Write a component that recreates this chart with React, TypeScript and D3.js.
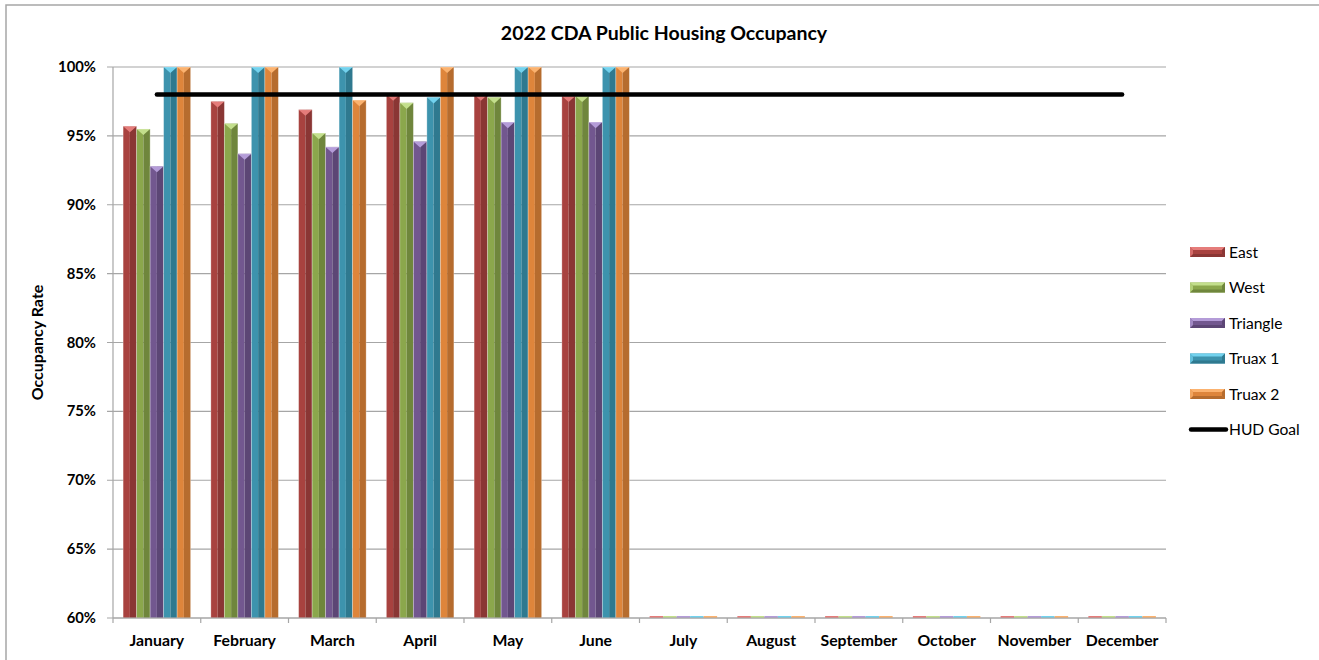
import React from "react";
import * as d3 from "d3";

// Months on the x axis
const months = [
  "January", "February", "March", "April", "May", "June",
  "July", "August", "September", "October", "November", "December",
];

// Occupancy rate (%) per site; later months not yet reported (0)
const east = [95.7, 97.5, 96.9, 98.0, 98.0, 97.9, 0, 0, 0, 0, 0, 0];
const west = [95.5, 95.9, 95.2, 97.4, 97.8, 97.9, 0, 0, 0, 0, 0, 0];
const triangle = [92.8, 93.7, 94.2, 94.6, 96.0, 96.0, 0, 0, 0, 0, 0, 0];
const truax1 = [100, 100, 100, 97.8, 100, 100, 0, 0, 0, 0, 0, 0];
const truax2 = [100, 100, 97.6, 100, 100, 100, 0, 0, 0, 0, 0, 0];
const hudGoal = 98;

const yTicks = [60, 65, 70, 75, 80, 85, 90, 95, 100];

const seriesNames = ["East", "West", "Triangle", "Truax 1", "Truax 2"];
const seriesValues = [east, west, triangle, truax1, truax2];

// main face, shaded face, cap
const palette = [
  { main: "#a8423f", dark: "#8a3634", light: "#e57c7a" },
  { main: "#8ba74c", dark: "#6f863c", light: "#c3df8c" },
  { main: "#72578f", dark: "#5c4675", light: "#b49cd8" },
  { main: "#3d93ad", dark: "#2f798f", light: "#72d2ee" },
  { main: "#de853b", dark: "#b66c2e", light: "#fbb26f" },
];

const W = 1319;
const H = 660;
const margin = { left: 113, right: 1166, top: 67, bottom: 618 };
const FONT = "Lato, 'Open Sans', sans-serif";

export default function App() {
  const x = d3.scaleBand<string>().domain(months).range([margin.left, margin.right]).padding(0);
  const bw = x.bandwidth();
  const inner = d3
    .scaleBand<string>()
    .domain(seriesNames)
    .range([(bw * 0.75) / 6.5, (bw * 5.75) / 6.5])
    .padding(0);
  const y = d3.scaleLinear().domain([60, 100]).range([margin.bottom, margin.top]);
  const barW = inner.bandwidth();

  const goalLine = d3.line<string>()
    .x((m) => (x(m) as number) + bw / 2)
    .y(() => y(hudGoal));

  return (
    <svg
      width={W}
      height={H}
      style={{ position: "absolute", left: 0, top: 0, background: "#fff" }}
      fontFamily={FONT}
    >
      {/* chart frame, cropped by the page */}
      <rect x={6} y={5} width={1330} height={680} fill="#fff" stroke="#a6a6a6" strokeWidth={1.5} />

      {/* title */}
      <text x={664} y={40} textAnchor="middle" fontSize={19.5} fontWeight="bold" fill="#000">
        2022 CDA Public Housing Occupancy
      </text>

      {/* grid + y ticks */}
      {yTicks.map((t) => (
        <g key={t}>
          <line x1={margin.left - 6} x2={margin.right} y1={y(t)} y2={y(t)} stroke="#a6a6a6" strokeWidth={1.2} />
          <text x={96} y={y(t) + 5} textAnchor="end" fontSize={14.8} fontWeight="bold" fill="#000">
            {t}%
          </text>
        </g>
      ))}
      <line x1={margin.left} x2={margin.left} y1={margin.top} y2={margin.bottom} stroke="#a6a6a6" strokeWidth={1.2} />

      {/* y axis title */}
      <text
        transform={`translate(42.5,${(margin.top + margin.bottom) / 2}) rotate(-90)`}
        textAnchor="middle"
        fontSize={16}
        fontWeight="bold"
        fill="#000"
      >
        Occupancy Rate
      </text>

      {/* bars */}
      {months.map((m, mi) => (
        <g key={m} transform={`translate(${x(m)},0)`}>
          {seriesValues.map((vals, si) => {
            const c = palette[si];
            const bx = inner(seriesNames[si]) as number;
            const v = Math.max(vals[mi], 60);
            const top = y(v);
            const base = y(60);
            if (base - top < 1) {
              return <rect key={si} x={bx} y={base - 2} width={barW} height={2} fill={c.light} />;
            }
            const capH = Math.min(barW * 0.45, base - top);
            return (
              <g key={si}>
                <rect x={bx} y={top} width={barW / 2} height={base - top} fill={c.main} />
                <rect x={bx + barW / 2} y={top} width={barW / 2} height={base - top} fill={c.dark} />
                <path
                  d={`M${bx},${top}L${bx + barW},${top}L${bx + barW / 2},${top + capH}Z`}
                  fill={c.light}
                />
                <rect
                  x={bx}
                  y={top}
                  width={barW}
                  height={base - top}
                  fill="none"
                  stroke="#ffffff"
                  strokeOpacity={0.35}
                  strokeWidth={0.8}
                />
              </g>
            );
          })}
        </g>
      ))}

      {/* x axis */}
      <line x1={margin.left} x2={margin.right} y1={margin.bottom} y2={margin.bottom} stroke="#a6a6a6" strokeWidth={1.2} />
      {months.map((m) => (
        <line
          key={m}
          x1={(x(m) as number) + bw}
          x2={(x(m) as number) + bw}
          y1={margin.bottom}
          y2={margin.bottom + 5}
          stroke="#a6a6a6"
          strokeWidth={1.2}
        />
      ))}
      <line x1={margin.left} x2={margin.left} y1={margin.bottom} y2={margin.bottom + 5} stroke="#a6a6a6" strokeWidth={1.2} />
      {months.map((m) => (
        <text
          key={m}
          x={(x(m) as number) + bw / 2}
          y={646}
          textAnchor="middle"
          fontSize={15.8}
          fontWeight="bold"
          fill="#000"
        >
          {m}
        </text>
      ))}

      {/* HUD goal line */}
      <path d={goalLine(months) || ""} fill="none" stroke="#000" strokeWidth={4.5} strokeLinecap="round" />

      {/* legend */}
      {seriesNames.map((name, i) => {
        const c = palette[i];
        const ly = 252 + i * 35.5;
        return (
          <g key={name} transform={`translate(1190,${ly - 5})`}>
            <rect x={0} y={0} width={35} height={10} fill={c.main} />
            <path d="M0,0L35,0L32,3L3,3Z" fill={c.light} />
            <path d="M0,10L35,10L32,7L3,7Z" fill={c.dark} />
            <path d="M0,0L3,3L3,7L0,10Z" fill={c.light} fillOpacity={0.7} />
            <path d="M35,0L32,3L32,7L35,10Z" fill={c.dark} />
            <text x={39} y={10.5} fontSize={15.6} fill="#000">
              {name}
            </text>
          </g>
        );
      })}
      <g transform={`translate(1190,${252 + 5 * 35.5})`}>
        <line x1={1} x2={36} y1={0} y2={0} stroke="#000" strokeWidth={4.5} strokeLinecap="round" />
        <text x={39} y={5.5} fontSize={15.6} fill="#000">
          HUD Goal
        </text>
      </g>
    </svg>
  );
}
